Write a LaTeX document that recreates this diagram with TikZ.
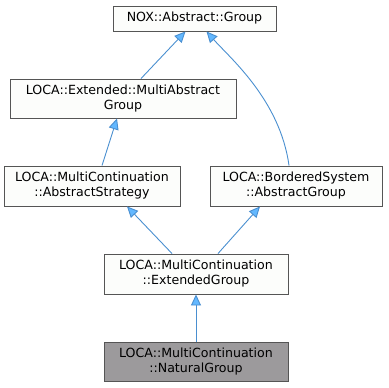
\documentclass[tikz,border=0pt]{standalone}
\usepackage{fontspec}
\setmainfont{DejaVu Sans}
\usetikzlibrary{positioning,arrows.meta}
\usepackage{xcolor}
\definecolor{edgeBlue}{HTML}{4A8FD0}
\definecolor{tipBlue}{HTML}{63B8FF}
\definecolor{boxLine}{HTML}{555555}
\definecolor{boxFill}{HTML}{FCFDFB}
\definecolor{baseFill}{HTML}{9C9A9C}

\begin{document}
\begin{tikzpicture}[
    x=1pt, y=-1pt,
    classBox/.style={rectangle, draw=boxLine, fill=boxFill, line width=0.9pt, font=\fontsize{12.6}{15}\selectfont, align=center, inner sep=0pt},
    arrowStyle/.style={{Triangle[length=11pt, width=10pt, fill=tipBlue]}-, line width=0.9pt, draw=edgeBlue}
]
    \useasboundingbox (0,0) rectangle (389,388);

    \node[classBox, minimum width=163pt, minimum height=25pt] (noxGroup) at (194.5, 18.5) {NOX::Abstract::Group};
    \node[classBox, minimum width=226pt, minimum height=39pt] (multiAbstract) at (123, 98.5) {LOCA::Extended::MultiAbstract\\Group};
    \node[classBox, minimum width=176pt, minimum height=40pt] (abstractStrategy) at (92, 186) {LOCA::MultiContinuation\\::AbstractStrategy};
    \node[classBox, minimum width=172pt, minimum height=40pt] (borderedGroup) at (296, 186) {LOCA::BorderedSystem\\::AbstractGroup};
    \node[classBox, minimum width=184pt, minimum height=40pt] (extendedGroup) at (196, 274) {LOCA::MultiContinuation\\::ExtendedGroup};
    \node[classBox, fill=baseFill, minimum width=184pt, minimum height=39pt] (naturalGroup) at (196, 361.5) {LOCA::MultiContinuation\\::NaturalGroup};

    % inheritance edges, tip on the base class
    \draw[arrowStyle] ([xshift=-9pt]noxGroup.south) -- ([xshift=18pt]multiAbstract.north);
    \draw[arrowStyle] ([xshift=12pt]noxGroup.south) .. controls (230, 58) and (280, 100) .. ([xshift=-7pt]borderedGroup.north);
    \draw[arrowStyle] ([xshift=-6pt]multiAbstract.south) -- ([xshift=10pt]abstractStrategy.north);
    \draw[arrowStyle] ([xshift=35pt]abstractStrategy.south) -- ([xshift=-24pt]extendedGroup.north);
    \draw[arrowStyle] ([xshift=-36pt]borderedGroup.south) -- ([xshift=22pt]extendedGroup.north);
    \draw[arrowStyle] (extendedGroup.south) -- (naturalGroup.north);
\end{tikzpicture}
\end{document}
